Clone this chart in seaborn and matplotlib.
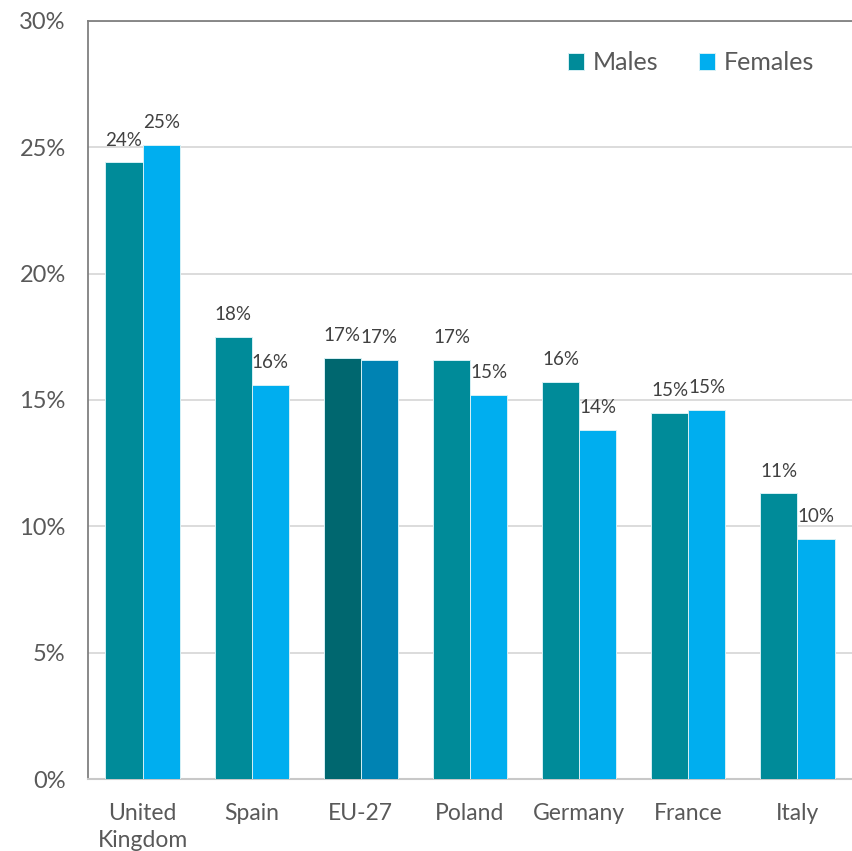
import numpy as np
import pandas as pd
import matplotlib
matplotlib.use("Agg")
import matplotlib.pyplot as plt
import seaborn as sns

# values (percent)
countries = ["United\nKingdom", "Spain", "EU-27", "Poland", "Germany", "France", "Italy"]
males = [24.4, 17.5, 16.65, 16.6, 15.7, 14.5, 11.3]
females = [25.1, 15.6, 16.6, 15.2, 13.8, 14.6, 9.5]
male_labels = ["24%", "18%", "17%", "17%", "16%", "15%", "11%"]
female_labels = ["25%", "16%", "17%", "15%", "14%", "15%", "10%"]
yticks = [0, 5, 10, 15, 20, 25, 30]

male_col = "#008b99"
female_col = "#00aeef"
eu_male_col = "#00676f"
eu_female_col = "#0083b3"
text_col = "#595959"

df = pd.DataFrame({
    "Country": countries * 2,
    "Sex": ["Males"] * len(countries) + ["Females"] * len(countries),
    "Value": males + females,
})

sns.set_style("white")
plt.rcParams["font.family"] = ["Lato", "DejaVu Sans"]

fig = plt.figure(figsize=(8.52, 8.51), dpi=100)
ax = fig.add_axes([88 / 852, 1 - 779 / 851, 764 / 852, 758 / 851])

sns.barplot(data=df, x="Country", y="Value", hue="Sex", order=countries,
            hue_order=["Males", "Females"], palette=[male_col, female_col],
            saturation=1, width=0.68, edgecolor="#d6f0f5", linewidth=0.7,
            ax=ax, zorder=3)

# EU-27 is drawn in darker shades
eu = countries.index("EU-27")
ax.containers[0][eu].set_facecolor(eu_male_col)
ax.containers[1][eu].set_facecolor(eu_female_col)

ax.bar_label(ax.containers[0], labels=male_labels, padding=10, fontsize=13.5, color="#404040")
ax.bar_label(ax.containers[1], labels=female_labels, padding=10, fontsize=13.5, color="#404040")

ax.set_ylim(0, 30)
ax.set_xlim(-0.5, len(countries) - 0.5)
ax.set_yticks(yticks)
ax.set_yticklabels([f"{t}%" for t in yticks])
ax.yaxis.grid(True, color="#d9d9d9", linewidth=1.3, zorder=0)
ax.xaxis.grid(False)
ax.set_xlabel("")
ax.set_ylabel("")
ax.tick_params(axis="y", length=0, pad=16, labelsize=17, labelcolor=text_col)
ax.tick_params(axis="x", length=0, pad=17, labelsize=16.5, labelcolor=text_col)
for lab in ax.get_xticklabels():
    lab.set_linespacing(1.35)

for s in ["left", "top"]:
    ax.spines[s].set_color("#808080")
    ax.spines[s].set_linewidth(1.3)
ax.spines["bottom"].set_color("#c8c8c8")
ax.spines["bottom"].set_linewidth(1.5)
ax.spines["right"].set_visible(False)

ax.legend(loc="center right", bbox_to_anchor=(0.98, 0.945), ncol=2, frameon=False,
          fontsize=18, handlelength=0.65, handleheight=0.65, handletextpad=0.35,
          columnspacing=1.6, labelcolor=text_col)

fig.savefig("out.png", dpi=100)
